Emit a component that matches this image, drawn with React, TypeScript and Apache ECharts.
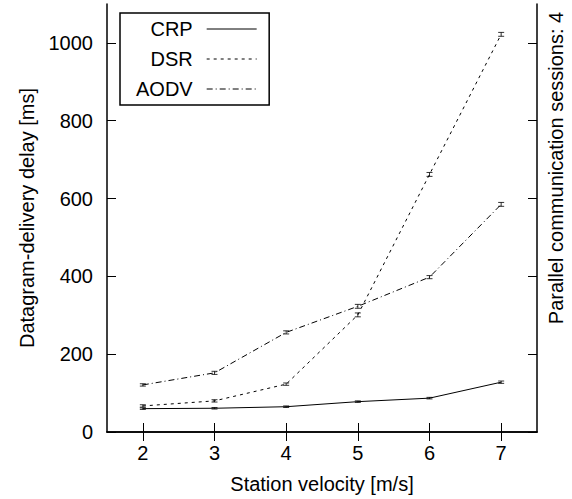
import React, { useEffect, useRef } from "react";
import * as echarts from "echarts";

const velocities = ["2", "3", "4", "5", "6", "7"];
const crp = [60, 61, 65, 78, 87, 128];
const dsr = [67, 80, 123, 301, 662, 1022];
const aodv = [121, 152, 256, 323, 398, 585];
const crpErr = [2, 2, 2, 2, 2, 3];
const dsrErr = [3, 3, 3, 5, 5, 5];
const aodvErr = [3, 4, 4, 5, 4, 5];
const yTicks = [0, 200, 400, 600, 800, 1000];

const FONT = "Liberation Sans, Arial, sans-serif";
const FS = 20;

function errorSeries(values: number[], errs: number[]) {
  return {
    type: "custom",
    silent: true,
    xAxisIndex: 0,
    yAxisIndex: 0,
    z: 3,
    data: values.map((v, i) => [i, v - errs[i], v + errs[i]]),
    renderItem: (params: any, api: any) => {
      const lo = api.coord([api.value(0), api.value(1)]);
      const hi = api.coord([api.value(0), api.value(2)]);
      const w = 3;
      const st = { stroke: "#000", lineWidth: 0.8 };
      return {
        type: "group",
        children: [
          { type: "line", shape: { x1: lo[0], y1: lo[1], x2: hi[0], y2: hi[1] }, style: st },
          { type: "line", shape: { x1: lo[0] - w, y1: lo[1], x2: lo[0] + w, y2: lo[1] }, style: st },
          { type: "line", shape: { x1: hi[0] - w, y1: hi[1], x2: hi[0] + w, y2: hi[1] }, style: st },
        ],
      };
    },
  };
}

export default function App() {
  const ref = useRef<HTMLDivElement>(null);
  useEffect(() => {
    if (!ref.current) return;
    const chart = echarts.init(ref.current, null, { renderer: "svg" });
    const axisLine = { show: true, lineStyle: { color: "#000", width: 1.5 } };
    chart.setOption({
      animation: false,
      backgroundColor: "#fff",
      textStyle: { fontFamily: FONT },
      grid: { left: 107, top: 4, width: 430, height: 430, containLabel: false },
      legend: {
        orient: "vertical",
        align: "right",
        left: 120,
        top: 13,
        padding: [6, 12, 6, 16],
        borderColor: "#000",
        borderWidth: 1.5,
        itemWidth: 50,
        itemHeight: 14,
        itemGap: 10,
        itemStyle: { opacity: 0 },
        lineStyle: { width: 1 },
        textStyle: { fontSize: FS, color: "#000", fontFamily: FONT, lineHeight: 20, padding: [0, 9, 0, 0] },
        data: ["CRP", "DSR", "AODV"],
      },
      xAxis: [
        {
          type: "category",
          data: velocities,
          boundaryGap: true,
          position: "bottom",
          axisLine,
          axisTick: { show: true, inside: true, length: 9, alignWithLabel: true, lineStyle: { color: "#000", width: 1 } },
          axisLabel: { fontSize: FS, color: "#000", margin: 11, fontFamily: FONT },
          splitLine: { show: false },
          name: "Station velocity [m/s]",
          nameLocation: "middle",
          nameGap: 42,
          nameTextStyle: { fontSize: FS, color: "#000", fontFamily: FONT },
        },
        {
          type: "category",
          data: velocities,
          boundaryGap: true,
          position: "top",
          axisLine,
          axisTick: { show: true, inside: true, length: 9, alignWithLabel: true, lineStyle: { color: "#000", width: 1 } },
          axisLabel: { show: false },
          splitLine: { show: false },
        },
      ],
      yAxis: [
        {
          type: "value",
          min: 0,
          max: 1100,
          interval: 200,
          position: "left",
          axisLine,
          axisTick: { show: true, inside: true, length: 9, customValues: yTicks, lineStyle: { color: "#000", width: 1 } },
          axisLabel: {
            fontSize: FS,
            color: "#000",
            margin: 14,
            fontFamily: FONT,
            customValues: yTicks,
            formatter: (v: number) => String(v),
          },
          splitLine: { show: false },
          name: "Datagram-delivery delay [ms]",
          nameLocation: "middle",
          nameGap: 70,
          nameTextStyle: { fontSize: FS, color: "#000", fontFamily: FONT },
        },
        {
          type: "value",
          min: 0,
          max: 1100,
          interval: 200,
          position: "right",
          axisLine,
          axisTick: { show: true, inside: true, length: 9, customValues: yTicks, lineStyle: { color: "#000", width: 1 } },
          axisLabel: { show: false },
          splitLine: { show: false },
        },
      ],
      series: [
        {
          name: "CRP",
          type: "line",
          data: crp,
          symbol: "none",
          color: "#000",
          lineStyle: { color: "#000", width: 1, type: "solid" },
        },
        {
          name: "DSR",
          type: "line",
          data: dsr,
          symbol: "none",
          color: "#000",
          lineStyle: { color: "#000", width: 1, type: [3, 4] },
        },
        {
          name: "AODV",
          type: "line",
          data: aodv,
          symbol: "none",
          color: "#000",
          lineStyle: { color: "#000", width: 1, type: [6, 3, 1, 3] },
        },
        errorSeries(crp, crpErr),
        errorSeries(dsr, dsrErr),
        errorSeries(aodv, aodvErr),
      ],
      graphic: [
        {
          type: "text",
          x: 556,
          y: 168,
          rotation: Math.PI / 2,
          style: {
            text: "Parallel communication sessions: 4",
            fontSize: FS,
            fontFamily: FONT,
            fill: "#000",
            align: "center",
            verticalAlign: "middle",
          },
        },
      ],
    });
    return () => chart.dispose();
  }, []);
  return <div ref={ref} style={{ width: 572, height: 499, position: "absolute", left: 0, top: 0 }} />;
}
